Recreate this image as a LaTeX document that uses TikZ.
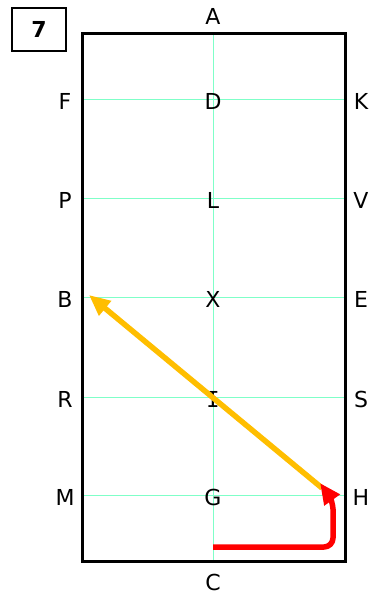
\documentclass[tikz,border=0pt]{standalone}
\usepackage{fontspec}
\setmainfont{DejaVu Sans}
\newfontfamily\monofnt{DejaVu Sans Mono}
\usetikzlibrary{arrows.meta}
\definecolor{gridgreen}{RGB}{127,255,200}
\definecolor{amber}{RGB}{255,190,0}
\definecolor{rred}{RGB}{255,0,0}
\tikzset{
  lbl/.style={font=\fontsize{22}{26}\selectfont, inner sep=0pt, anchor=center},
  gridline/.style={draw=gridgreen, line width=1pt},
  arena/.style={draw=black, line width=3pt},
  route/.style={line width=5.5pt, line cap=butt, line join=round},
}
\begin{document}
\begin{tikzpicture}[x=1pt,y=-1pt]
\useasboundingbox (0,0) rectangle (369,597);
% grid lines
\foreach \yy in {99.5,198.5,297.5,397.5,495.5} \draw[gridline] (82,\yy) -- (345,\yy);
\draw[gridline] (213.5,33) -- (213.5,561);
% arena
\draw[arena] (82,33) rectangle (345,561);
% number box
\node[draw=black, line width=2pt, minimum width=54pt, minimum height=43pt, inner sep=0pt,
      font=\fontsize{22}{26}\selectfont\bfseries] (num) at (39,29.5) {7};
% letters
\node[lbl] (A) at (213,16) {A};
\node[lbl] (C) at (213,582) {C};
\node[lbl] (F) at (65,101) {F};
\node[lbl] (D) at (213,101) {D};
\node[lbl] (K) at (361,101) {K};
\node[lbl] (P) at (65,200) {P};
\node[lbl] (L) at (213,200) {L};
\node[lbl] (V) at (361,200) {V};
\node[lbl] (B) at (65,299) {B};
\node[lbl] (X) at (213,299) {X};
\node[lbl] (E) at (361,299) {E};
\node[lbl] (R) at (65,399) {R};
\node[lbl, font=\fontsize{22}{26}\selectfont\monofnt] (I) at (213,399) {I};
\node[lbl] (S) at (361,399) {S};
\node[lbl] (M) at (65,497) {M};
\node[lbl] (G) at (213,497) {G};
\node[lbl] (H) at (361,497) {H};
% routes
\coordinate (ystart) at (322,488);
\coordinate (yend) at (89,295);
\draw[route, draw=amber, -{Triangle[length=21pt,width=18pt]}] (ystart) -- (yend);
\coordinate (rstart) at (213,547);
\coordinate (rc1) at (333,547);
\coordinate (rc2) at (333,518);
\coordinate (rend) at (320,483);
\draw[route, draw=rred, rounded corners=9pt, -{Triangle[length=21pt,width=18pt]}]
  (rstart) -- (rc1) -- (rc2) .. controls (333,505) and (330,497) .. (rend);
\end{tikzpicture}
\end{document}
